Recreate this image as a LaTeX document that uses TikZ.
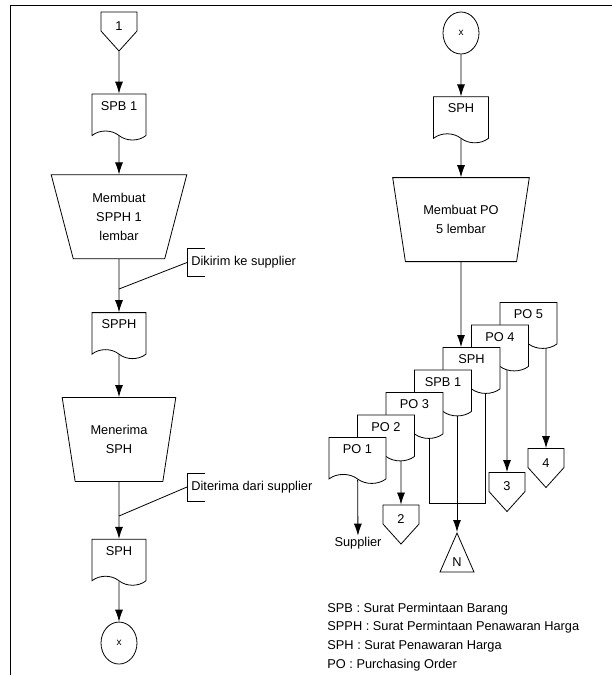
\documentclass[tikz,border=0pt]{standalone}
\usepackage{fontspec}
\setmainfont{Liberation Sans}
\usetikzlibrary{arrows.meta, positioning, shapes.geometric, shapes.symbols, backgrounds}

\begin{document}
\begin{tikzpicture}[x=1pt, y=1pt, line width=0.8pt, >={Latex[length=12pt,width=8pt]},
    every node/.style={font=\fontsize{12.8pt}{19pt}\selectfont},
    docbox/.style={draw, fill=white, tape, tape bend top=none, tape bend bottom=out and in,
        tape bend height=9pt, minimum width=54pt, minimum height=46pt, inner sep=0pt,
        text height=9.3pt, text depth=14pt},
    manop/.style={draw, trapezium, trapezium left angle=75, trapezium right angle=75,
        shape border rotate=180, trapezium stretches, minimum height=84pt, align=center},
    offpage/.style={draw, signal, signal to=south, signal from=nowhere, signal pointer angle=84,
        minimum width=36pt, minimum height=23pt, inner sep=0pt, text height=18pt},
    endpt/.style={draw, ellipse, minimum width=36pt, minimum height=42pt, inner sep=0pt,
        font=\fontsize{10pt}{12pt}\selectfont},
    archive/.style={draw, isosceles triangle, shape border rotate=90, isosceles triangle stretches,
        minimum width=34pt, minimum height=39pt, inner sep=0pt},
    note/.style={anchor=west, minimum height=27pt, inner sep=4pt}
  ]
    \useasboundingbox (0,0) rectangle (612,-675);

    % frame
    \draw (10,-675) -- (10,-5) -- (612,-5);

    % left column
    \node[offpage] (one) at (119,-21.5) {1};
    \node[docbox, below=42pt of one] (spb) {SPB 1};
    \node[manop, minimum width=136pt, below=43pt of spb] (mkspph) {Membuat\\SPPH 1\\ lembar};
    \node[docbox, below=53pt of mkspph] (spph) {SPPH};
    \node[manop, minimum width=114pt, below=47pt of spph] (terima) {Menerima\\SPH};
    \node[docbox, below=57pt of terima] (sph) {SPH};
    \node[endpt, below=45pt of sph] (xa) {x};

    \node[note] (kirim) at (187,-262.5) {Dikirim ke supplier};
    \node[note] (dari) at (187,-487) {Diterima dari supplier};
    \coordinate (j1) at (119,-289);
    \coordinate (j2) at (119,-516);

    \draw[->] (one) -- (spb);
    \draw[->] (spb) -- (mkspph);
    \draw[->] (mkspph) -- (spph);
    \draw[->] (spph) -- (terima);
    \draw[->] (terima) -- (sph);
    \draw[->] (sph) -- (xa);

    \draw ([xshift=18pt]kirim.north west) -| (kirim.south west) -- ++(18,0);
    \draw ([xshift=18pt]dari.north west) -| (dari.south west) -- ++(18,0);
    \draw (j1) -- (kirim.west);
    \draw (j2) -- (dari.west);

    % right column
    \node[endpt] (xb) at (461,-33) {x};
    \node[docbox, minimum width=55pt, below=42pt of xb] (sphr) {SPH};
    \node[manop, minimum width=137pt, below=43pt of sphr] (mkpo) {Membuat PO\\5 lembar};

    \draw[->] (xb) -- (sphr);
    \draw[->] (sphr) -- (mkpo);

    % stacked copies, back to front
    \node[docbox, minimum width=57pt, below=40pt of mkpo, xshift=67.5pt] (po5) {PO 5};
    \begin{scope}[on grid, docbox/.append style={minimum width=57pt}]
        \node[docbox, below left=22.5pt and 28.5pt of po5] (po4) {PO 4};
        \node[docbox, below left=22.5pt and 28.5pt of po4] (sphs) {SPH};
        \node[docbox, below left=22.5pt and 28.5pt of sphs] (spbs) {SPB 1};
        \node[docbox, below left=22.5pt and 28.5pt of spbs] (po3) {PO 3};
        \node[docbox, below left=22.5pt and 28.5pt of po3] (po2) {PO 2};
        \node[docbox, below left=22.5pt and 28.5pt of po2] (po1) {PO 1};
    \end{scope}

    \node[inner sep=1pt] (sup) at (358,-543) {Supplier};
    \node[offpage] (two) at (401,-514.5) {2};
    \node[offpage] (three) at (507,-482) {3};
    \node[offpage] (four) at (546,-458) {4};
    \node[archive, anchor=apex] (nn) at (457,-532) {N};
    \coordinate (lp) at (429,-503);
    \coordinate (rp) at (485,-503);

    \draw[->] (mkpo) -- (mkpo |- sphs.north);
    \draw[->] (po1) -- (sup);
    \begin{scope}[on background layer={line width=0.8pt}]
        \draw[->] (two |- po2) -- (two);
        \draw (lp |- po3) -- (lp) -- (rp) -- (rp |- sphs);
        \draw[->] (nn.apex |- spbs) -- (nn.apex);
        \draw[->] (three |- po4) -- (three);
        \draw[->] (four |- po5) -- (four);
    \end{scope}

    % legend
    \node[anchor=north west, align=left, inner sep=0pt, font=\fontsize{12.8pt}{18.7pt}\selectfont]
        (legend) at (327,-602.5) {SPB : Surat Permintaan Barang\\SPPH : Surat Permintaan Penawaran Harga\\SPH : Surat Penawaran Harga\\PO : Purchasing Order};

\end{tikzpicture}
\end{document}
